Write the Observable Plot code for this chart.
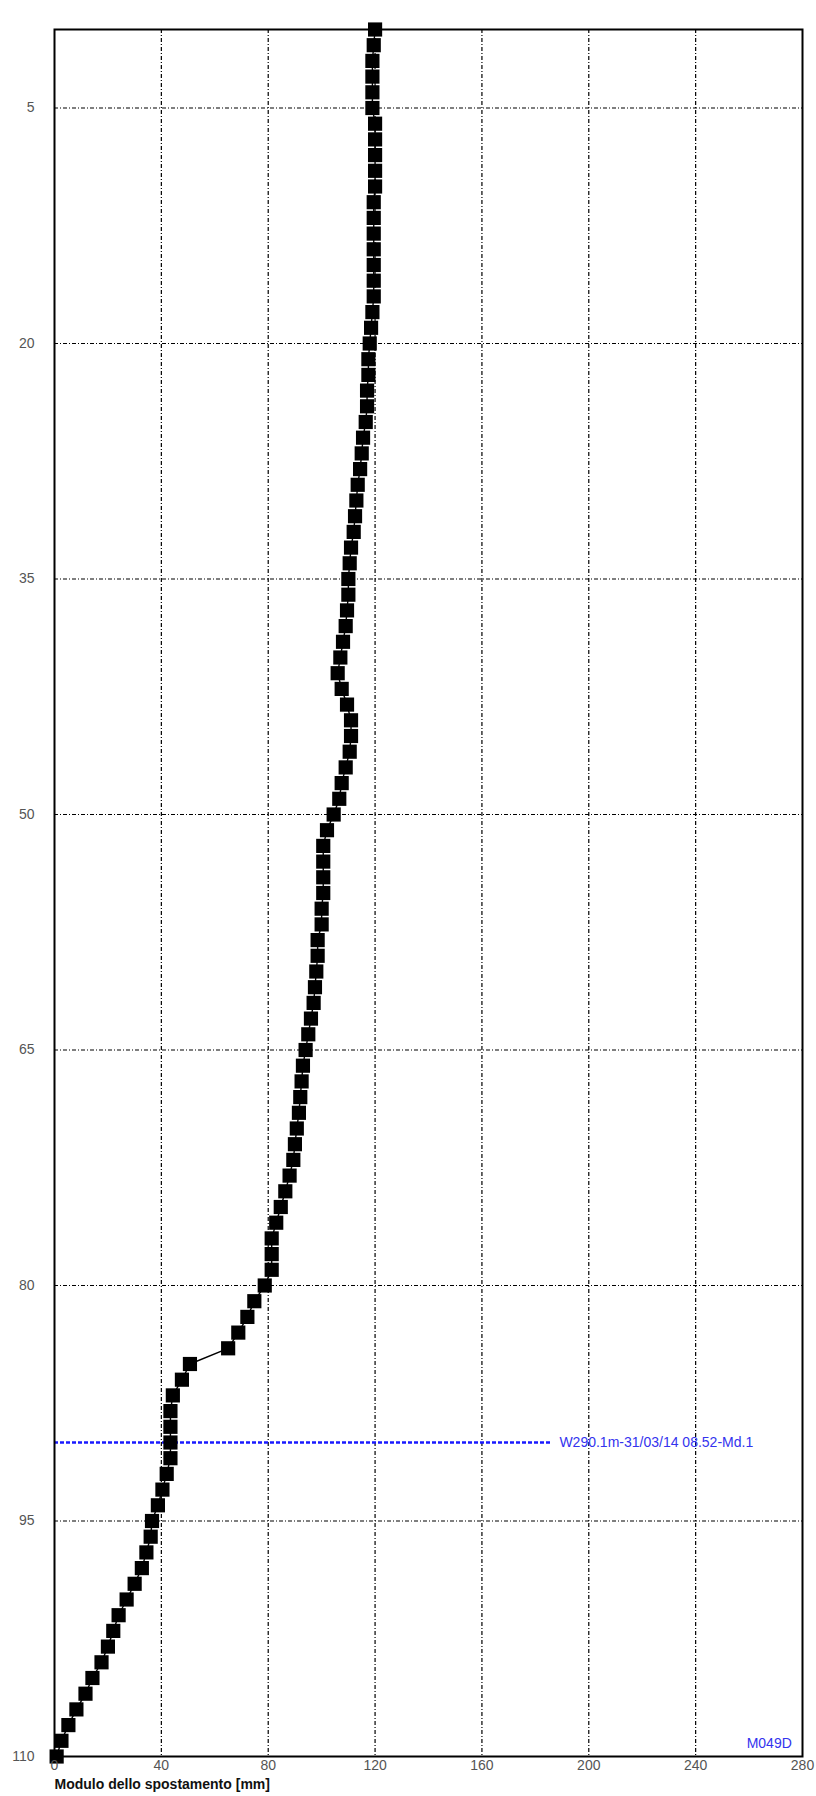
<!DOCTYPE html>
<html>
<head>
<meta charset="utf-8">
<script src="https://cdn.jsdelivr.net/npm/d3@7"></script>
<script src="https://cdn.jsdelivr.net/npm/@observablehq/plot@0.6"></script>
<style>
  body { margin: 0; background: #fff; font-family: "Liberation Sans", Arial, sans-serif; }
</style>
</head>
<body>
<div id="chart-container"></div>
<script>
// depth [m] and displacement modulus [mm]
const depths = d3.range(0, 111);
const moduli = [
  120, 119.5, 119, 119, 119, 119, 120, 120, 120, 120,
  120, 119.5, 119.5, 119.5, 119.5, 119.5, 119.5, 119.5, 119, 118.5,
  118, 117.5, 117.5, 117, 117, 116.5, 115.5, 115, 114.4, 113.5,
  113, 112.5, 112, 111, 110.5, 110, 110, 109.5, 109, 108,
  107, 106, 107.5, 109.5, 111, 111, 110.5, 109, 107.5, 106.6,
  104.5, 102, 100.6, 100.6, 100.6, 100.6, 100, 100, 98.5, 98.5,
  98, 97.5, 97, 96, 95, 94, 93, 92.5, 92, 91.5,
  90.7, 90, 89.4, 88, 86.4, 84.7, 83, 81.3, 81.3, 81.3,
  78.7, 74.8, 72.2, 68.8, 65, 50.7, 47.7, 44.3, 43.4, 43.4,
  43.4, 43.4, 42, 40.4, 38.7, 36.5, 36, 34.4, 32.7, 30,
  27, 24, 22, 20, 17.6, 14.2, 11.6, 8.2, 5.2, 2.6, 0.8
];
const profile = depths.map((d, i) => ({depth: d, value: moduli[i]}));

const xTicks = [0, 40, 80, 120, 160, 200, 240, 280];
const yTicks = [5, 20, 35, 50, 65, 80, 95, 110];
const refDepth = 90;
const refLabel = "W290.1m-31/03/14 08.52-Md.1";
const tubeName = "M049D";

const gridDash = "4,2,1,2";

const plot = Plot.plot({
  width: 816,
  height: 1796,
  marginTop: 29,
  marginLeft: 54,
  marginRight: 14,
  marginBottom: 40,
  style: {fontFamily: "Liberation Sans, Arial, sans-serif", fontSize: "14px", background: "#fff"},
  x: {domain: [0, 280], ticks: xTicks, label: null},
  y: {domain: [0, 110], reverse: true, ticks: yTicks, label: null},
  marks: [
    Plot.ruleX(xTicks.slice(1, -1), {stroke: "#000", strokeWidth: 1.2, strokeDasharray: gridDash}),
    Plot.ruleY(yTicks.slice(0, -1), {stroke: "#000", strokeWidth: 1.2, strokeDasharray: gridDash}),
    Plot.ruleY([refDepth], {x1: 0, x2: 186, stroke: "#1a1aff", strokeWidth: 2.5, strokeDasharray: "4,2"}),
    Plot.text([refLabel], {x: 189, y: refDepth, text: d => d, textAnchor: "start", fill: "#3333ee", fontSize: 14}),
    Plot.text([tubeName], {x: 276, y: 109.2, text: d => d, textAnchor: "end", fill: "#3333ee", fontSize: 14}),
    Plot.line(profile, {x: "value", y: "depth", stroke: "#000", strokeWidth: 1.4}),
    Plot.dot(profile, {x: "value", y: "depth", symbol: "square", r: 8, fill: "#000"}),
    Plot.frame({stroke: "#000", strokeWidth: 2}),
    Plot.axisX({ticks: xTicks, tickSize: 0, tickPadding: 4, fill: "#555", label: null}),
    Plot.axisY({ticks: yTicks, tickSize: 0, tickPadding: 20, fill: "#555", label: null}),
    Plot.text(["Modulo dello spostamento [mm]"], {frameAnchor: "bottom-left", dy: 32, text: d => d, textAnchor: "start", fontWeight: "bold", fontSize: 14, fill: "#111"})
  ]
});

document.getElementById('chart-container').appendChild(plot);
</script>
</body>
</html>
